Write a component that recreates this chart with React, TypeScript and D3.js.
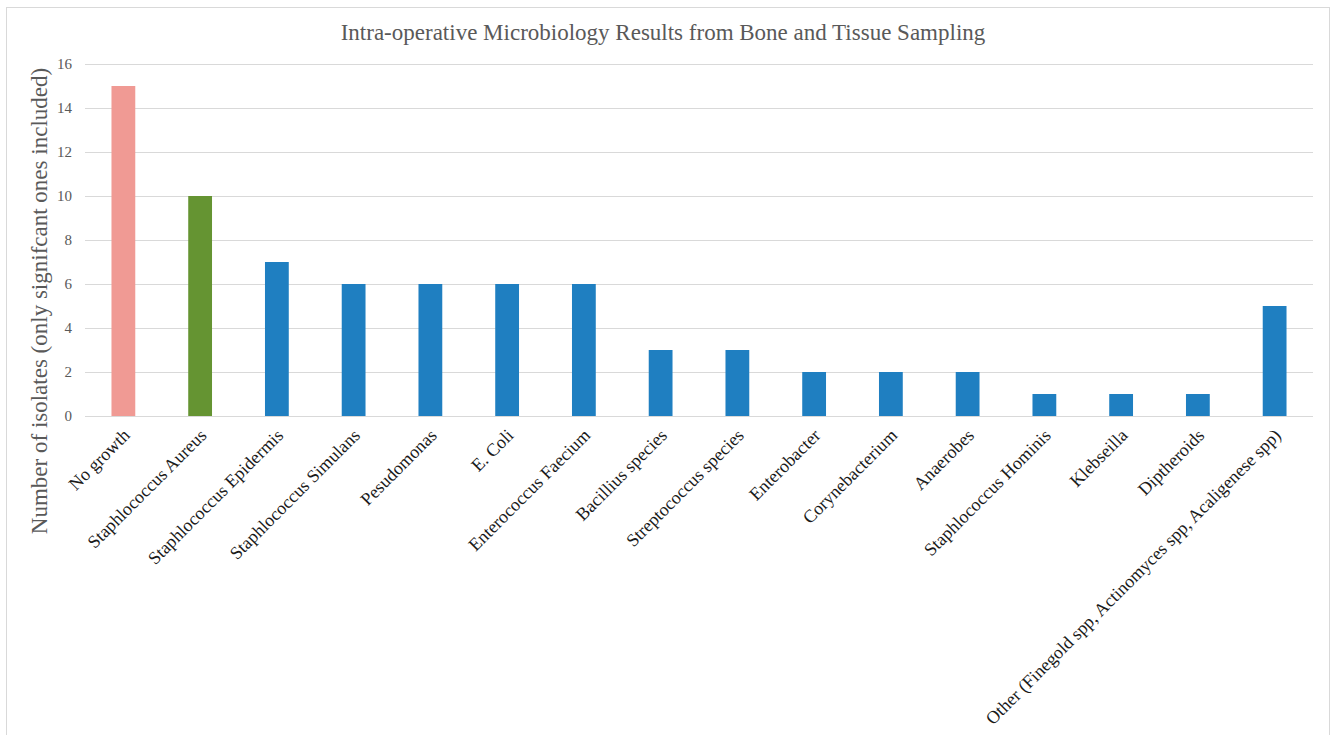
import React from "react";
import * as d3 from "d3";

const categories = [
  "No growth",
  "Staphlococcus Aureus",
  "Staphlococcus Epidermis",
  "Staphlococcus Simulans",
  "Pesudomonas",
  "E. Coli",
  "Enterococcus Faecium",
  "Bacillius species",
  "Streptococcus species",
  "Enterobacter",
  "Corynebacterium",
  "Anaerobes",
  "Staphlococcus Hominis",
  "Klebseilla",
  "Diptheroids",
  "Other (Finegold spp, Actinomyces spp, Acaligenese spp)",
];
const values = [15, 10, 7, 6, 6, 6, 6, 3, 3, 2, 2, 2, 1, 1, 1, 5];
const yTicks = [0, 2, 4, 6, 8, 10, 12, 14, 16];
const title = "Intra-operative Microbiology Results from Bone and Tissue Sampling";
const yTitle = "Number of isolates (only signifcant ones included)";

const W = 1331;
const H = 735;
const FONT = "'Liberation Serif', 'DejaVu Serif', serif";

function colorFor(i: number) {
  if (i === 0) return "#F09A94";
  if (i === 1) return "#659432";
  return "#1F7FC1";
}

export default function App() {
  const left = 85;
  const right = 1313;
  const top = 64;
  const bottom = 416;
  const x = d3.scaleBand<string>().domain(categories).range([left, right]).paddingInner(0.69).paddingOuter(0.345);
  const y = d3.scaleLinear().domain([0, 16]).range([bottom, top]);
  const xc = (c: string) => (x(c) as number) + x.bandwidth() / 2;
  return (
    <svg width={W} height={H} style={{ position: "absolute", left: 0, top: 0, background: "#fff" }} fontFamily={FONT}>
      <rect x={6.5} y={7.5} width={1323} height={740} fill="#fff" stroke="#d9d9d9" strokeWidth={1} />
      <text x={663} y={40} textAnchor="middle" fontSize={23} fill="#595959">{title}</text>
      {yTicks.map((t) => (
        <g key={t}>
          <line x1={left} x2={right} y1={y(t) + 0.5} y2={y(t) + 0.5} stroke="#d9d9d9" strokeWidth={1} />
          <text x={72} y={y(t) + 5} textAnchor="end" fontSize={15} fill="#595959">{t}</text>
        </g>
      ))}
      {categories.map((c, i) => (
        <rect key={c} x={x(c)} y={y(values[i])} width={x.bandwidth()} height={bottom - y(values[i])} fill={colorFor(i)} />
      ))}
      {categories.map((c) => (
        <text key={c} transform={`translate(${xc(c) + 3},${bottom + 16}) rotate(-45)`} textAnchor="end" fontSize={18} fill="#1a1a1a" dy="0.35em">{c}</text>
      ))}
      <text transform={`translate(47,${301}) rotate(-90)`} textAnchor="middle" fontSize={23} fill="#595959">{yTitle}</text>
    </svg>
  );
}
